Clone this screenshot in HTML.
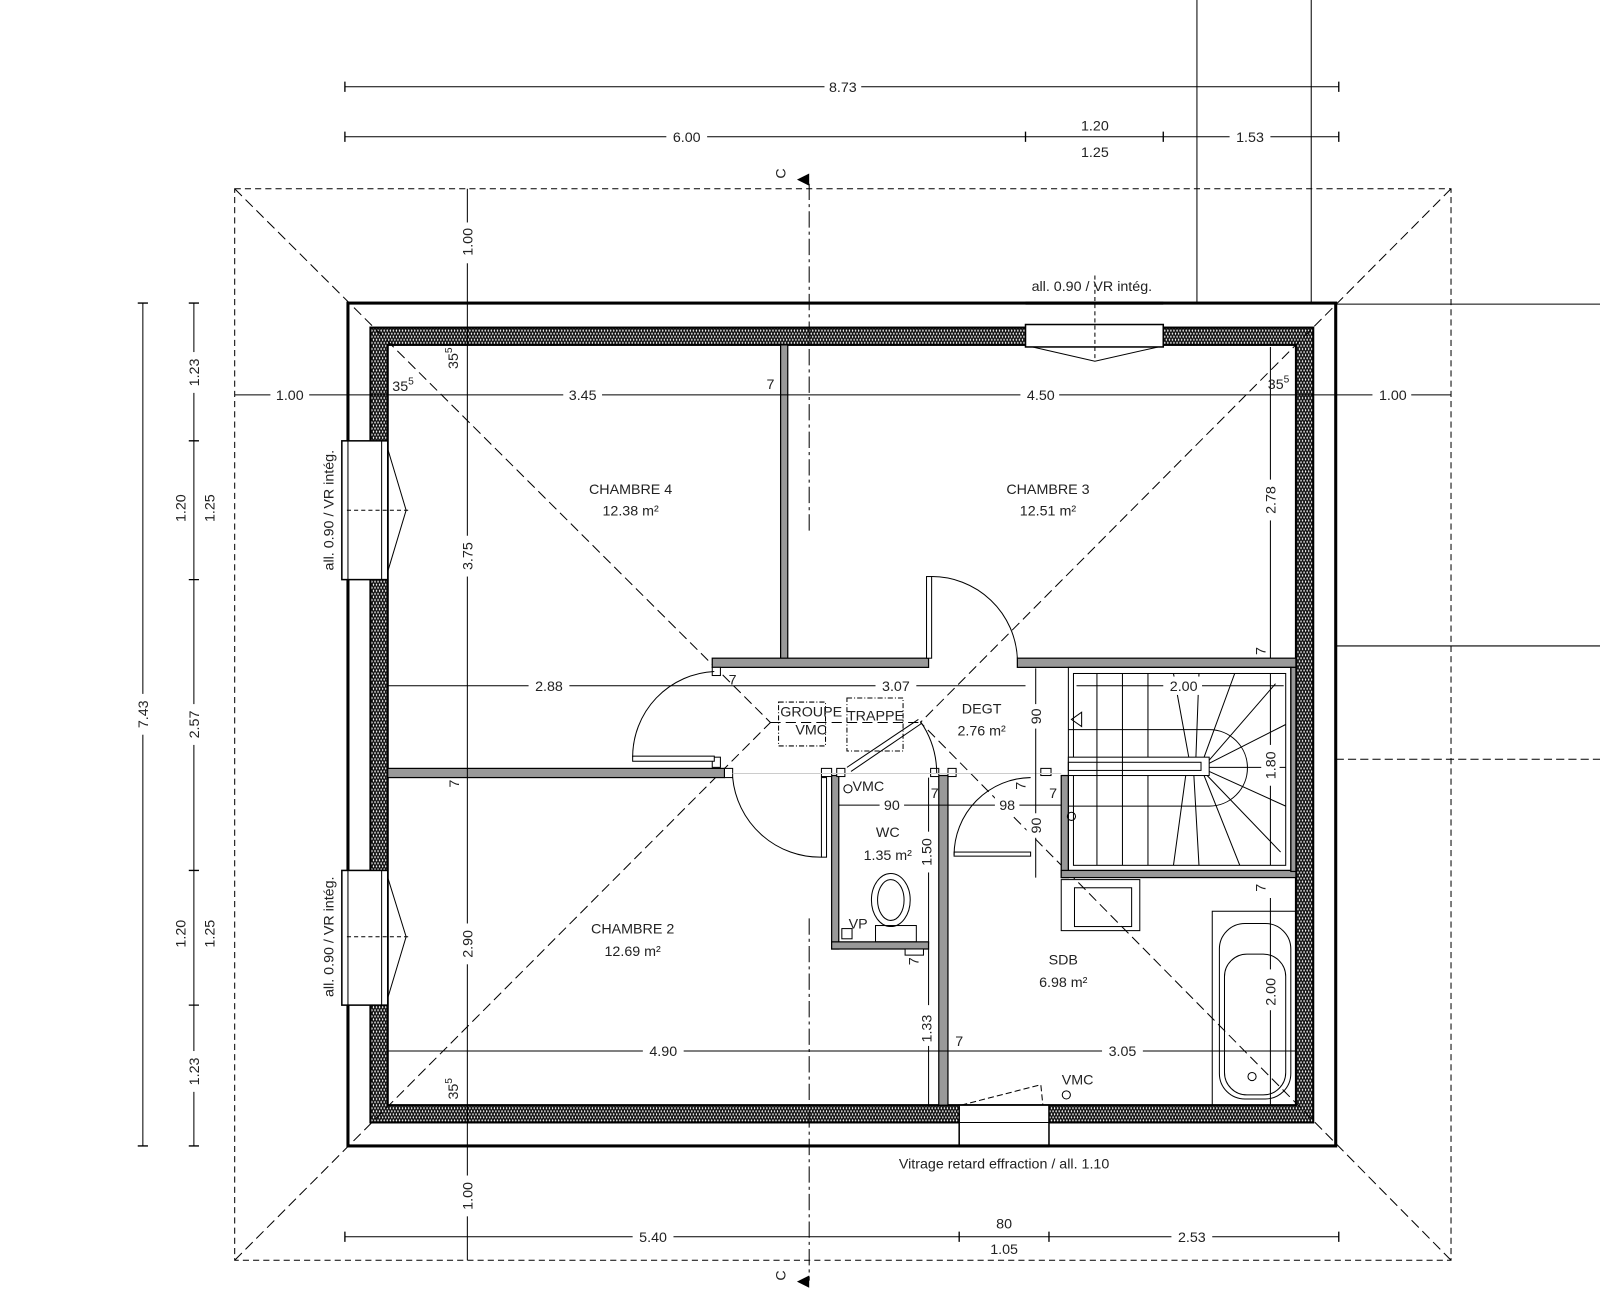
<!DOCTYPE html>
<html><head><meta charset="utf-8"><style>
html,body{margin:0;padding:0;background:#fff;}
svg{display:block}
text{font-family:"Liberation Sans Narrow","Liberation Sans",sans-serif;fill:#222;font-size:14px}
</style></head><body>
<svg width="1600" height="1298" viewBox="0 0 1568 1272" xmlns="http://www.w3.org/2000/svg">
<defs>
<pattern id="hz" width="6" height="6" patternUnits="userSpaceOnUse">
<rect width="6" height="6" fill="#fff"/><path d="M0,0 L3,6 L6,0 M0,6 L3,0 L6,6" stroke="#111" stroke-width="1.3" fill="none"/>
</pattern>
</defs>
<g fill="none" stroke="#000">
<rect x="230" y="185" width="1192" height="1050" stroke-dasharray="6,4" stroke-width="1"/>
<line x1="1173" y1="0" x2="1173" y2="297" stroke-width="1"/>
<line x1="1285" y1="0" x2="1285" y2="297" stroke-width="1"/>
<line x1="1309" y1="298" x2="1568" y2="298" stroke-width="1"/>
<line x1="1285" y1="633" x2="1568" y2="633" stroke-width="1"/>
<line x1="1285" y1="744" x2="1568" y2="744" stroke-width="1" stroke-dasharray="8,4"/>
</g>
<!-- exterior walls -->
<rect x="341" y="297" width="968" height="826" fill="#fff" stroke="#000" stroke-width="3"/>
<rect x="363" y="321" width="924" height="779" fill="url(#hz)" stroke="#000" stroke-width="2"/>
<rect x="380" y="338" width="890" height="745" fill="#fff" stroke="#000" stroke-width="2"/>
<!-- roof hip lines -->
<g fill="none" stroke="#000" stroke-dasharray="10,5" stroke-width="1">
<line x1="230" y1="185" x2="755" y2="708"/>
<line x1="230" y1="1235" x2="755" y2="708"/>
<line x1="1422" y1="185" x2="902" y2="708"/>
<line x1="1422" y1="1235" x2="902" y2="708"/>
<line x1="755" y1="708" x2="902" y2="708"/>
</g>
<g stroke="#000" stroke-dasharray="16,4,3,4" stroke-width="1">
<line x1="793" y1="180" x2="793" y2="520"/>
<line x1="793" y1="900" x2="793" y2="1255"/>
</g>
<!-- windows -->
<g fill="#fff" stroke="#000" stroke-width="1.5">
<rect x="335" y="432" width="45" height="136"/>
<rect x="335" y="853" width="45" height="132"/>
<rect x="1005" y="318" width="135" height="22"/>
<rect x="940" y="1083" width="88" height="40"/>
</g>
<g fill="none" stroke="#000" stroke-width="1">
<line x1="341" y1="432" x2="341" y2="568"/><line x1="374" y1="432" x2="374" y2="568"/>
<line x1="341" y1="853" x2="341" y2="985"/><line x1="374" y1="853" x2="374" y2="985"/>
<polyline points="380,440 398,500 380,560"/><polyline points="380,860 398,918 380,978"/>
<polyline points="1012,340 1073,354 1135,340"/>
<line x1="1073" y1="270" x2="1073" y2="354" stroke-dasharray="4,3"/>
<line x1="340" y1="500" x2="400" y2="500" stroke-dasharray="4,3"/>
<line x1="340" y1="918" x2="400" y2="918" stroke-dasharray="4,3"/>
<line x1="1005" y1="297" x2="1140" y2="297" stroke-width="3"/>
<line x1="940" y1="1123" x2="1028" y2="1123" stroke-width="3"/>
<line x1="940" y1="1100" x2="1028" y2="1100"/>
<polyline points="942,1083 1020,1063 1022,1083" stroke-dasharray="6,3"/>
</g>
<!-- interior walls -->
<g fill="#999" stroke="#000" stroke-width="1.2">
<rect x="765" y="338" width="7" height="310"/>
<rect x="698" y="645" width="212" height="9"/>
<rect x="997" y="645" width="273" height="9"/>
<rect x="380" y="753" width="330" height="9"/>
<rect x="815" y="760" width="7" height="170"/>
<rect x="815" y="923" width="95" height="7"/>
<rect x="920" y="760" width="9" height="323"/>
<rect x="1040" y="760" width="7" height="100"/>
<rect x="1040" y="853" width="230" height="7"/>
<rect x="1265" y="654" width="5" height="200"/>
</g>
<g fill="#fff" stroke="#000" stroke-width="1">
<rect x="698" y="654" width="8" height="8"/><rect x="698" y="742" width="8" height="10"/><rect x="710" y="753" width="8" height="9"/>
<rect x="805" y="753" width="10" height="8"/><rect x="820" y="753" width="8" height="8"/><rect x="912" y="753" width="8" height="8"/><rect x="929" y="753" width="8" height="8"/>
<rect x="1020" y="753" width="10" height="7"/>
<rect x="825" y="910" width="10" height="10"/>
<rect x="887" y="930" width="18" height="6"/>
</g>
<g fill="none" stroke="#000" stroke-width="1">
<rect x="908" y="565" width="5" height="80" fill="#fff"/>
<path d="M913,565 A84,84 0 0 1 997,645"/>
<rect x="620" y="741" width="80" height="5" fill="#fff"/>
<path d="M700,658 A84,84 0 0 0 620,742"/>
<rect x="805" y="762" width="5" height="78" fill="#fff"/>
<path d="M718,762 A86,86 0 0 0 805,840"/>
<line x1="830" y1="752" x2="900" y2="705"/><line x1="834" y1="756" x2="903" y2="709"/>
<path d="M902,707 A90,90 0 0 1 918,758"/>
<rect x="935" y="835" width="75" height="4" fill="#fff"/>
<path d="M1010,762 A76,76 0 0 0 935,838"/>
<line x1="718" y1="758" x2="1040" y2="758" stroke="#ccc"/>
<rect x="763" y="688" width="46" height="43" stroke-dasharray="5,2,1,2"/>
<rect x="830" y="684" width="55" height="52" stroke-dasharray="5,2,1,2"/>
<rect x="1047" y="654" width="218" height="199"/>
<rect x="1052" y="660" width="208" height="188"/>
<rect x="1047" y="742" width="138" height="18" fill="#fff"/>
<rect x="1047" y="747" width="130" height="8"/>
<line x1="1075" y1="660" x2="1075" y2="848"/><line x1="1100" y1="660" x2="1100" y2="848"/>
<line x1="1125" y1="660" x2="1125" y2="742"/><line x1="1125" y1="760" x2="1125" y2="848"/>
<path d="M1150,660 L1165,742 M1175,660 L1172,742 M1210,660 L1180,742 M1250,670 L1185,745 M1260,710 L1185,748 M1260,752 L1185,752 M1260,790 L1185,756 M1255,835 L1183,760 M1215,848 L1180,760 M1175,848 L1170,760 M1150,848 L1162,760"/>
<path d="M1047,715 L1185,715 A36,36 0 0 1 1185,790 L1047,790"/>
<polygon points="1050,705 1060,698 1060,712"/>
<rect x="1040" y="862" width="77" height="50"/><rect x="1053" y="870" width="56" height="38"/>
<rect x="1188" y="893" width="82" height="190"/>
<rect x="1195" y="905" width="70" height="172" rx="25"/>
<rect x="1200" y="935" width="60" height="138" rx="22"/>
<circle cx="1227" cy="1055" r="4"/>
<ellipse cx="873" cy="882" rx="19" ry="26"/><ellipse cx="873" cy="882" rx="13" ry="20"/>
<rect x="858" y="907" width="40" height="16"/>
<circle cx="831" cy="773" r="4"/><circle cx="1045" cy="1073" r="4"/>
<circle cx="1050" cy="800" r="4"/>
</g>
<g stroke="#000" stroke-width="1" fill="none">
<line x1="338" y1="85" x2="1312" y2="85"/>
<line x1="338" y1="134" x2="1312" y2="134"/>
<line x1="338" y1="1212" x2="1312" y2="1212"/>
<line x1="140" y1="297" x2="140" y2="1123"/>
<line x1="190" y1="297" x2="190" y2="1123"/>
<line x1="230" y1="387" x2="1422" y2="387"/>
<line x1="458" y1="185" x2="458" y2="1235"/>
<line x1="380" y1="672" x2="1005" y2="672"/>
<line x1="380" y1="1030" x2="1270" y2="1030"/>
<line x1="1245" y1="340" x2="1245" y2="645"/>
<line x1="1245" y1="660" x2="1245" y2="848"/>
<line x1="1245" y1="880" x2="1245" y2="1083"/>
<line x1="1015" y1="655" x2="1015" y2="860"/>
<line x1="910" y1="930" x2="910" y2="1083"/>
<line x1="910" y1="762" x2="910" y2="925"/>
<line x1="822" y1="789" x2="1040" y2="789"/>
<line x1="1055" y1="672" x2="1258" y2="672"/>
<g stroke-width="1.3">
<path d="M338,80v10M1312,80v10M338,129v10M1005,129v10M1140,129v10M1312,129v10M338,1207v10M940,1207v10M1028,1207v10M1312,1207v10"/>
<path d="M135,297h10M135,1123h10M185,297h10M185,432h10M185,568h10M185,853h10M185,985h10M185,1123h10"/>
</g>
</g>
<g text-anchor="middle">
<g fill="#fff" stroke="none">
<rect x="808" y="75" width="36" height="18"/><rect x="653" y="125" width="40" height="18"/><rect x="1205" y="125" width="40" height="18"/>
<rect x="620" y="1203" width="40" height="18"/><rect x="1148" y="1203" width="40" height="18"/>
<rect x="265" y="378" width="38" height="18"/><rect x="552" y="378" width="38" height="18"/><rect x="1000" y="378" width="38" height="18"/><rect x="1345" y="378" width="38" height="18"/>
<rect x="518" y="663" width="40" height="18"/><rect x="858" y="663" width="40" height="18"/>
<rect x="630" y="1021" width="40" height="18"/><rect x="1080" y="1021" width="40" height="18"/>
<rect x="1140" y="663" width="38" height="18"/>
<rect x="449" y="218" width="18" height="40"/><rect x="449" y="525" width="18" height="40"/><rect x="449" y="905" width="18" height="40"/><rect x="449" y="1152" width="18" height="40"/>
<rect x="131" y="680" width="18" height="40"/><rect x="181" y="345" width="18" height="40"/><rect x="181" y="690" width="18" height="40"/><rect x="181" y="1030" width="18" height="40"/>
<rect x="1236" y="470" width="18" height="40"/><rect x="1236" y="730" width="18" height="40"/><rect x="1236" y="950" width="18" height="40"/>
<rect x="1006" y="690" width="18" height="24"/><rect x="1006" y="797" width="18" height="24"/>
<rect x="901" y="815" width="18" height="40"/><rect x="901" y="985" width="18" height="40"/>
<rect x="862" y="780" width="24" height="18"/><rect x="975" y="780" width="24" height="18"/>
</g>
<text x="826" y="90">8.73</text>
<text x="673" y="139">6.00</text>
<text x="1073" y="128">1.20</text><text x="1073" y="154">1.25</text>
<text x="1225" y="139">1.53</text>
<text x="640" y="1217">5.40</text>
<text x="984" y="1204">80</text><text x="984" y="1229">1.05</text>
<text x="1168" y="1217">2.53</text>
<text x="284" y="392">1.00</text><text x="571" y="392">3.45</text><text x="755" y="381">7</text><text x="1020" y="392">4.50</text><text x="1365" y="392">1.00</text>
<text x="538" y="677">2.88</text><text x="718" y="671">7</text><text x="878" y="677">3.07</text>
<text x="650" y="1035">4.90</text><text x="940" y="1025">7</text><text x="1100" y="1035">3.05</text>
<text x="1160" y="677">2.00</text>
<text x="874" y="794">90</text><text x="987" y="794">98</text>
<text x="916" y="782">7</text><text x="1032" y="782">7</text>
<text x="395" y="383">35<tspan font-size="10" dy="-6">5</tspan></text>
<text x="1253" y="381">35<tspan font-size="10" dy="-6">5</tspan></text>
<text x="618" y="484">CHAMBRE 4</text><text x="618" y="505">12.38 m²</text>
<text x="1027" y="484">CHAMBRE 3</text><text x="1027" y="505">12.51 m²</text>
<text x="962" y="699">DEGT</text><text x="962" y="721">2.76 m²</text>
<text x="870" y="820">WC</text><text x="870" y="843">1.35 m²</text>
<text x="620" y="915">CHAMBRE 2</text><text x="620" y="937">12.69 m²</text>
<text x="1042" y="945">SDB</text><text x="1042" y="967">6.98 m²</text>
<text x="1070" y="285" font-size="12">all. 0.90 / VR intég.</text>
<text x="984" y="1145" font-size="12">Vitrage retard effraction / all. 1.10</text>
<text x="795" y="702" font-size="10">GROUPE</text><text x="795" y="720" font-size="10">VMC</text>
<text x="858" y="706" font-size="10">TRAPPE</text>
<text x="851" y="775" font-size="10">VMC</text><text x="1056" y="1063" font-size="10">VMC</text>
<text x="841" y="910" font-size="10">VP</text>
</g>
<g text-anchor="middle">
<text transform="translate(463,237) rotate(-90)">1.00</text>
<text transform="translate(463,545) rotate(-90)">3.75</text>
<text transform="translate(463,925) rotate(-90)">2.90</text>
<text transform="translate(463,1172) rotate(-90)">1.00</text>
<text transform="translate(145,700) rotate(-90)">7.43</text>
<text transform="translate(195,365) rotate(-90)">1.23</text>
<text transform="translate(182,498) rotate(-90)">1.20</text>
<text transform="translate(210,498) rotate(-90)">1.25</text>
<text transform="translate(195,710) rotate(-90)">2.57</text>
<text transform="translate(182,915) rotate(-90)">1.20</text>
<text transform="translate(210,915) rotate(-90)">1.25</text>
<text transform="translate(195,1050) rotate(-90)">1.23</text>
<text transform="translate(1250,490) rotate(-90)">2.78</text>
<text transform="translate(1250,750) rotate(-90)">1.80</text>
<text transform="translate(1250,972) rotate(-90)">2.00</text>
<text transform="translate(1020,702) rotate(-90)">90</text>
<text transform="translate(1020,809) rotate(-90)">90</text>
<text transform="translate(913,835) rotate(-90)">1.50</text>
<text transform="translate(913,1008) rotate(-90)">1.33</text>
<text transform="translate(449,351) rotate(-90)">35<tspan font-size="10" dy="-6">5</tspan></text>
<text transform="translate(449,1067) rotate(-90)">35<tspan font-size="10" dy="-6">5</tspan></text>
<text transform="translate(450,768) rotate(-90)">7</text>
<text transform="translate(1005,770) rotate(-90)">7</text>
<text transform="translate(1240,638) rotate(-90)">7</text>
<text transform="translate(1240,870) rotate(-90)">7</text>
<text transform="translate(900,942) rotate(-90)">7</text>
<text transform="translate(327,500) rotate(-90)" font-size="11">all. 0.90 / VR intég.</text>
<text transform="translate(327,918) rotate(-90)" font-size="11">all. 0.90 / VR intég.</text>
<text transform="translate(770,170) rotate(-90)">C</text>
<text transform="translate(770,1250) rotate(-90)">C</text>
</g>
<polygon points="781,176 793,170 793,182" fill="#000"/>
<polygon points="781,1256 793,1250 793,1262" fill="#000"/>
</svg>
</body></html>
